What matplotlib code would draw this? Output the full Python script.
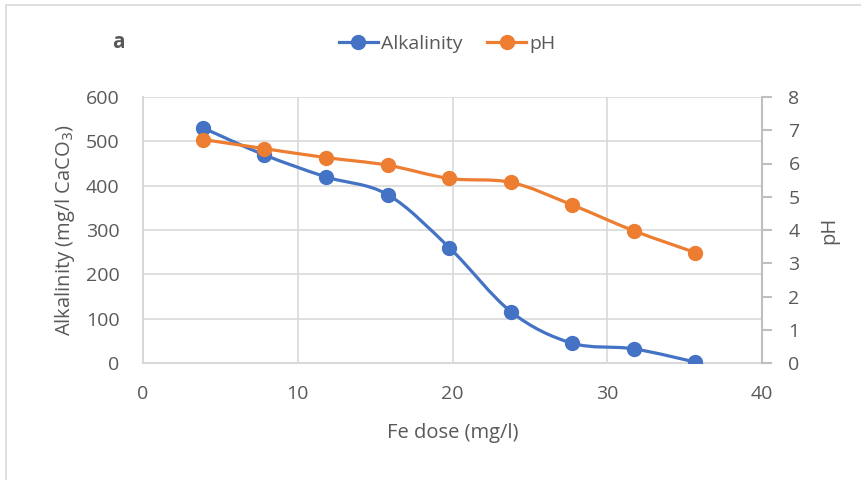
import numpy as np
import matplotlib.pyplot as plt
from matplotlib.path import Path
from matplotlib.patches import PathPatch, Rectangle

plt.rcParams['font.family'] = ['Open Sans', 'DejaVu Sans']

fe_dose = [3.9, 7.8, 11.8, 15.8, 19.8, 23.8, 27.7, 31.7, 35.7]
alkalinity = [530, 470, 420, 380, 260, 115, 45, 32, 2]
ph = [6.72, 6.45, 6.18, 5.95, 5.55, 5.43, 4.76, 3.98, 3.32]

text_col = '#595959'
grid_col = '#D9D9D9'
blue = '#4472C4'
orange = '#ED7D31'


def smooth_path(x, y):
    # Excel-like smoothed line: cubic bezier segments (catmull-rom style)
    p = np.column_stack([x, y]).astype(float)
    verts = [p[0]]
    codes = [Path.MOVETO]
    n = len(p)
    for i in range(n - 1):
        p0 = p[i - 1] if i > 0 else p[i]
        p3 = p[i + 2] if i + 2 < n else p[i + 1]
        c1 = p[i] + (p[i + 1] - p0) / 6
        c2 = p[i + 1] - (p3 - p[i]) / 6
        verts += [c1, c2, p[i + 1]]
        codes += [Path.CURVE4] * 3
    return Path(verts, codes)


fig = plt.figure(figsize=(8.61, 4.8), dpi=100)
fig.patches.append(Rectangle((6 / 861, -0.1), 1.2, 1.1 - 5 / 480, transform=fig.transFigure,
                             fill=False, edgecolor=grid_col, lw=1.2))

ax = fig.add_axes([143 / 861, 1 - 363 / 480, 619 / 861, 266 / 480])
ax2 = ax.twinx()

ax.set_xlim(0, 40)
ax.set_ylim(0, 600)
ax2.set_ylim(0, 8)
ax.set_xticks(range(0, 41, 10))
ax.set_yticks(range(0, 601, 100))
ax2.set_yticks(range(0, 9))

ax.grid(True, color=grid_col, lw=1.2)
ax.set_axisbelow(True)
for a in (ax, ax2):
    for s in a.spines.values():
        s.set_visible(False)
ax.spines['left'].set_visible(True)
ax.spines['left'].set_color(grid_col)
ax.spines['left'].set_linewidth(1.5)
ax.spines['bottom'].set_visible(True)
ax.spines['bottom'].set_color(grid_col)
ax.spines['bottom'].set_linewidth(1.5)
ax2.spines['right'].set_visible(True)
ax2.spines['right'].set_color('#BFBFBF')
ax2.spines['right'].set_linewidth(1.5)

ax.tick_params(axis='both', length=0, labelsize=14, labelcolor=text_col)
ax.tick_params(axis='y', pad=17)
ax.tick_params(axis='x', pad=16)
ax2.tick_params(axis='y', length=7, width=1.5, color='#BFBFBF', direction='out',
                labelsize=14, labelcolor=text_col, pad=12)

ax.add_patch(PathPatch(smooth_path(fe_dose, alkalinity), fill=False, edgecolor=blue,
                       lw=2.3, zorder=3))
ax.plot(fe_dose, alkalinity, 'o', color=blue, ms=10, zorder=4)
ax2.add_patch(PathPatch(smooth_path(fe_dose, ph), fill=False, edgecolor=orange,
                        lw=2.3, zorder=3))
ax2.plot(fe_dose, ph, 'o', color=orange, ms=10, zorder=4)

ax.set_xlabel('Fe dose (mg/l)', fontsize=14.5, color=text_col, labelpad=14)
ax.set_ylabel('Alkalinity (mg/l CaCO$_3$)', fontsize=14.5, color=text_col, labelpad=6)
ax2.set_ylabel('pH', fontsize=14.5, color=text_col, rotation=90, labelpad=14)

fig.text(118 / 861, 1 - 43 / 480, 'a', fontsize=15, fontweight='bold', color=text_col,
         ha='center', va='center')

h1, = ax.plot([], [], '-o', color=blue, lw=2.3, ms=10)
h2, = ax.plot([], [], '-o', color=orange, lw=2.3, ms=10)
fig.legend([h1, h2], ['Alkalinity', 'pH'], loc='center', bbox_to_anchor=(447 / 861, 1 - 44 / 480),
           ncol=2, frameon=False, fontsize=14, labelcolor=text_col, handlelength=2.0,
           handletextpad=0.15, columnspacing=1.3)

fig.savefig('out.png', dpi=100)
